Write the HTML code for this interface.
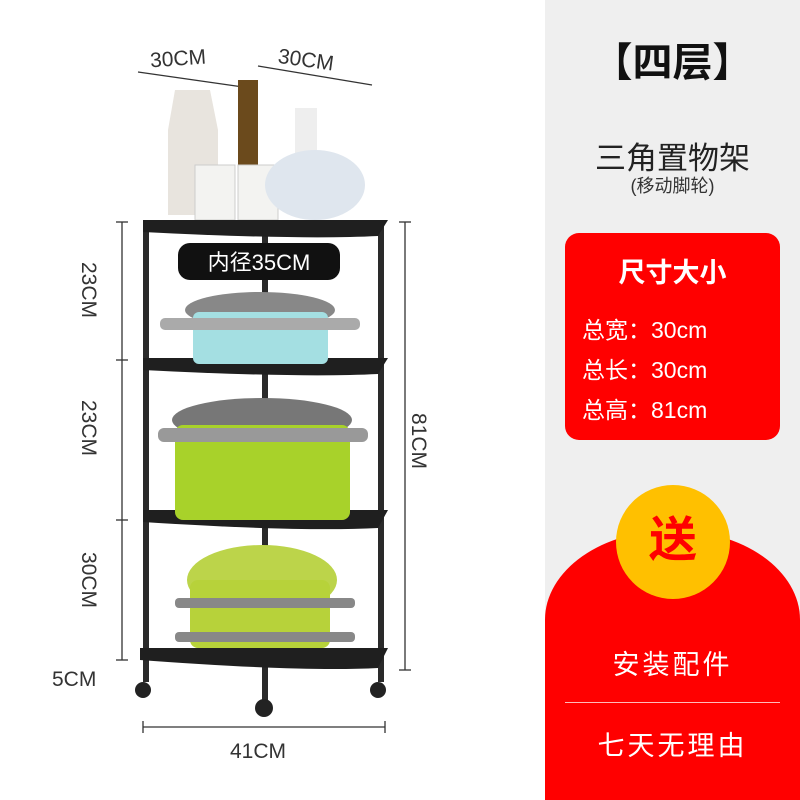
<!DOCTYPE html>
<html><head><meta charset="utf-8"><style>
body{margin:0;width:800px;height:800px;overflow:hidden;background:#fff;font-family:"Liberation Sans","Noto Sans CJK SC",sans-serif;position:relative}
.a{position:absolute}
</style></head><body>
<div class="a" style="left:545px;top:0;width:255px;height:800px;background:#efefef"></div>
<div class="a" style="left:545px;top:30px;width:255px;text-align:center;font-size:40px;font-weight:bold;color:#111">【四层】</div>
<div class="a" style="left:545px;top:133px;width:255px;text-align:center;font-size:31px;color:#222">三角置物架</div>
<div class="a" style="left:545px;top:172px;width:255px;text-align:center;font-size:18px;color:#333">(移动脚轮)</div>
<div class="a" style="left:565px;top:233px;width:215px;height:207px;background:#f00;border-radius:14px;color:#fff">
 <div style="text-align:center;font-size:27px;font-weight:bold;margin-top:18px">尺寸大小</div>
 <div style="font-size:23px;margin:20px 0 0 17px;line-height:40px">总宽：30cm<br>总长：30cm<br>总高：81cm</div>
</div>
<div class="a" style="left:545px;top:530px;width:255px;height:270px;background:#f00;border-radius:128px 128px 0 0/90px 90px 0 0"></div>
<div class="a" style="left:616px;top:485px;width:114px;height:114px;border-radius:50%;background:#ffc000;color:#f00;font-size:48px;font-weight:bold;text-align:center;line-height:112px">送</div>
<div class="a" style="left:545px;top:643px;width:255px;text-align:center;color:#fff;font-size:27px;letter-spacing:3px">安装配件</div>
<div class="a" style="left:565px;top:702px;width:215px;height:1px;background:#fbb"></div>
<div class="a" style="left:545px;top:724px;width:255px;text-align:center;color:#fff;font-size:27px;letter-spacing:3px">七天无理由</div>

<svg class="a" style="left:0;top:0" width="545" height="800">
 <g stroke="#333" stroke-width="1.3" fill="none">
  <line x1="138" y1="72" x2="250" y2="88"/><line x1="258" y1="66" x2="372" y2="85"/>
  <line x1="122" y1="222" x2="122" y2="660"/>
  <line x1="116" y1="222" x2="128" y2="222"/><line x1="116" y1="360" x2="128" y2="360"/><line x1="116" y1="520" x2="128" y2="520"/><line x1="116" y1="660" x2="128" y2="660"/>
  <line x1="405" y1="222" x2="405" y2="670"/><line x1="399" y1="222" x2="411" y2="222"/><line x1="399" y1="670" x2="411" y2="670"/>
  <line x1="143" y1="727" x2="385" y2="727"/><line x1="143" y1="721" x2="143" y2="733"/><line x1="385" y1="721" x2="385" y2="733"/>
 </g>
 <g fill="#333" font-size="21" font-family="Liberation Sans,sans-serif">
  <text x="150" y="65" transform="rotate(-4 185 58)">30CM</text>
  <text x="278" y="68" transform="rotate(8 315 60)">30CM</text>
  <text transform="translate(82,262) rotate(90)">23CM</text>
  <text transform="translate(82,400) rotate(90)">23CM</text>
  <text transform="translate(82,552) rotate(90)">30CM</text>
  <text x="52" y="686">5CM</text>
  <text transform="translate(412,413) rotate(90)">81CM</text>
  <text x="230" y="758">41CM</text>
 </g>
 <!-- top items -->
 <path d="M175 90 h35 l8 40 v85 h-50 v-85z" fill="#e8e4de"/>
 <rect x="238" y="80" width="20" height="110" fill="#6b4a1c"/>
 <rect x="295" y="108" width="22" height="60" fill="#eee"/>
 <rect x="195" y="165" width="40" height="55" fill="#f3f3f1" stroke="#ccc"/>
 <rect x="238" y="165" width="40" height="55" fill="#f3f3f1" stroke="#ccc"/>
 <ellipse cx="315" cy="185" rx="50" ry="35" fill="#dfe6ee"/>
 <!-- poles -->
 <g fill="#2a2a2a">
  <rect x="143" y="222" width="6" height="460"/>
  <rect x="378" y="222" width="6" height="460"/>
  <rect x="262" y="232" width="6" height="480"/>
 </g>
 <!-- shelves -->
 <g fill="#1f1f1f">
  <path d="M143 220 H388 L378 236 Q300 240 143 232z"/>
  <path d="M143 358 H388 L378 374 Q300 378 143 370z"/>
  <path d="M143 510 H388 L378 528 Q300 532 143 522z"/>
  <path d="M140 648 H388 L378 668 Q300 672 140 660z"/>
 </g>
 <g fill="#222"><circle cx="143" cy="690" r="8"/><circle cx="378" cy="690" r="8"/><circle cx="264" cy="708" r="9"/></g>
 <!-- pots -->
 <rect x="178" y="243" width="162" height="37" rx="12" fill="#111"/>
 <text x="259" y="270" fill="#fff" font-size="22" text-anchor="middle" font-family="Liberation Sans,Noto Sans CJK SC,sans-serif">内径35CM</text>
 <ellipse cx="260" cy="310" rx="75" ry="18" fill="#888"/>
 <rect x="193" y="312" width="135" height="52" rx="6" fill="#a4dfe2"/>
 <rect x="160" y="318" width="200" height="12" rx="5" fill="#aaa"/>
 <ellipse cx="262" cy="420" rx="90" ry="22" fill="#777"/>
 <rect x="175" y="425" width="175" height="95" rx="8" fill="#a8d22a"/>
 <rect x="158" y="428" width="210" height="14" rx="6" fill="#999"/>
 <ellipse cx="262" cy="580" rx="75" ry="35" fill="#bcd44a"/>
 <rect x="190" y="580" width="140" height="68" rx="8" fill="#b7d23a"/>
 <rect x="175" y="598" width="180" height="10" rx="4" fill="#888"/>
 <rect x="175" y="632" width="180" height="10" rx="4" fill="#888"/>
</svg>
</body></html>
